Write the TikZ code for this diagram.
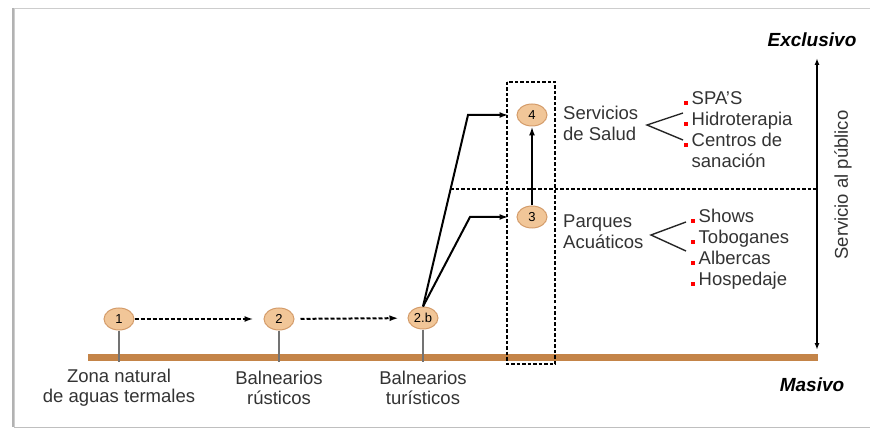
\documentclass[tikz,border=0pt]{standalone}
\usepackage{fontspec}
\setmainfont{Liberation Sans}
\usetikzlibrary{shapes.geometric,arrows.meta}

\definecolor{axisbrown}{RGB}{196,132,72}
\definecolor{peach}{RGB}{241,198,152}
\definecolor{peachline}{RGB}{212,156,106}
\definecolor{framegray}{RGB}{205,205,205}
\newcommand{\bul}{\textcolor{red}{\rule{4pt}{4pt}}\hspace{3.5pt}}

\begin{document}
\begin{tikzpicture}[x=1pt,y=-1pt,
  stage/.style={ellipse,draw=peachline,line width=1pt,fill=peach,minimum width=30pt,minimum height=22pt,inner sep=0pt,font=\fontsize{13}{13}\selectfont},
  lbl/.style={align=center,font=\fontsize{18.5}{20}\selectfont,text=black!80},
  txt/.style={align=left,anchor=west,inner sep=0pt,font=\fontsize{18.5}{21}\selectfont,text=black!80},
  item/.style={anchor=base west,inner sep=0pt,font=\fontsize{18.5}{20}\selectfont,text=black!80},
  stem/.style={draw=black!55,line width=2pt},
  link/.style={-{Latex[length=9pt,width=6pt]},line width=2pt},
  dlink/.style={link,dash pattern=on 4pt off 2pt},
  box/.style={dash pattern=on 3.5pt off 2pt,line width=2pt},
  pole/.style={font=\fontsize{19}{19}\selectfont\bfseries\itshape}
]
\useasboundingbox (0,0) rectangle (870,430);

% Frame
\draw[framegray] (14,427) -- (14,8) -- (872,8);
\draw[black!25,line width=1pt] (14,427) -- (872,427);
\draw[black!30,line width=2pt] (13,8) -- (13,427);

% Axis
\draw[axisbrown,line width=7pt] (88,357) -- (818,357);

% Stages
\node[stage] (s1) at (119,319) {1};
\node[stage] (s2) at (279,319) {2};
\node[stage] (s2b) at (423,318) {2.b};
\node[stage] (s3) at (532,217) {3};
\node[stage] (s4) at (532,115) {4};

% Stems
\coordinate (f1) at (119,362);
\coordinate (f2) at (279,362);
\coordinate (f2b) at (423,362);
\draw[stem] (s1) -- (f1);
\draw[stem] (s2) -- (f2);
\draw[stem] (s2b) -- (f2b);

% Stage labels
\node[lbl] (l1) at (119,388) {Zona natural\\de aguas termales};
\node[lbl] (l2) at (279,388) {Balnearios\\rústicos};
\node[lbl] (l2b) at (423,388) {Balnearios\\turísticos};

% Links
\draw[dlink,shorten >=10pt] (s1) -- (s2);
\draw[dlink,shorten <=6pt,shorten >=9pt] (s2) -- (s2b);
\coordinate (c4) at (468,115);
\coordinate (c3) at (470,217);
\draw[link,shorten >=8pt] (s2b.north) -- (c4) -- (s4);
\draw[link,shorten >=8pt] (s2b.north) -- (c3) -- (s3);
\draw[link] (s3) -- (s4);

% Dashed box and split line
\draw[box] (507,82) rectangle (555,364);
\coordinate (d1) at (450,189);
\coordinate (d2) at (817,189);
\draw[box] (d1) -- (d2);

% Scale arrow
\coordinate (ax) at (817,58);
\coordinate (am) at (817,350);
\draw[{Latex[length=7pt,width=5pt]}-{Latex[length=7pt,width=5pt]},line width=1.6pt] (ax) -- (am);
\node[pole] (ex) at (812,40) {Exclusivo};
\node[pole] (ma) at (812,385) {Masivo};
\node[lbl,rotate=90] (sp) at (843,185) {Servicio al público};

% Salud
\node[txt] (salud) at (563,123) {Servicios\\de Salud};
\coordinate (vs) at (647,125);
\coordinate (vs1) at (683,113);
\coordinate (vs2) at (683,140);
\draw[line width=1.4pt,black!85] (vs1) -- (vs) -- (vs2);
\node[item] (spa) at (684,105) {\bul SPA'S};
\node[item] (hid) at (684,126) {\bul Hidroterapia};
\node[item] (cen) at (684,147) {\bul Centros de};
\node[item] (san) at (684,168) {\phantom{\bul}sanación};

% Parques
\node[txt] (parq) at (563,232) {Parques\\Acuáticos};
\coordinate (vp) at (651,235);
\coordinate (vp1) at (686,222);
\coordinate (vp2) at (686,251);
\draw[line width=1.4pt,black!85] (vp1) -- (vp) -- (vp2);
\node[item] (sho) at (691,223) {\bul Shows};
\node[item] (tob) at (691,244) {\bul Toboganes};
\node[item] (alb) at (691,265) {\bul Albercas};
\node[item] (hos) at (691,286) {\bul Hospedaje};

\end{tikzpicture}
\end{document}
